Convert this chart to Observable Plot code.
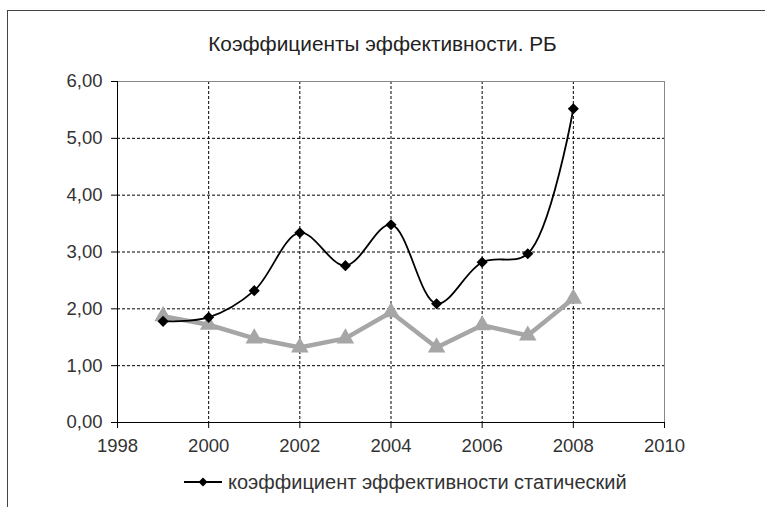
<!DOCTYPE html>
<html>
<head>
<meta charset="utf-8">
<script src="https://cdn.jsdelivr.net/npm/d3@7"></script>
<script src="https://cdn.jsdelivr.net/npm/@observablehq/plot@0.6"></script>
<style>
  html, body { margin: 0; padding: 0; background: #fff; }
  #wrap { position: relative; width: 765px; height: 507px; overflow: hidden; font-family: "Liberation Sans", Arial, sans-serif; }
  #frame { position: absolute; left: 7px; top: 10px; width: 770px; height: 510px; border-top: 1px solid #444; border-left: 1px solid #444; }
  #title { position: absolute; left: 0; top: 32px; width: 765px; text-align: center; font-size: 20.8px; color: #222; line-height: 24px; }
  #chart { position: absolute; left: 0; top: 60px; }
  #legend { position: absolute; left: 183px; top: 470px; font-size: 20px; color: #333; display: flex; align-items: center; line-height: 24px; }
  #legend svg { margin-right: 5px; }
</style>
</head>
<body>
<div id="wrap">
  <div id="frame"></div>
  <div id="title">Коэффициенты эффективности. РБ</div>
  <div id="chart"></div>
  <div id="legend"></div>
</div>
<script>
const years = [1999, 2000, 2001, 2002, 2003, 2004, 2005, 2006, 2007, 2008];
const staticCoef = [1.78, 1.85, 2.32, 3.34, 2.76, 3.48, 2.09, 2.82, 2.97, 5.52];
const dynamicCoef = [1.87, 1.72, 1.48, 1.32, 1.48, 1.94, 1.32, 1.71, 1.53, 2.18];
const xTicks = [1998, 2000, 2002, 2004, 2006, 2008, 2010];
const yTicks = [0, 1, 2, 3, 4, 5, 6];
const staticLabel = "коэффициент эффективности статический";

const staticData = years.map((x, i) => ({x, y: staticCoef[i]}));
const dynamicData = years.map((x, i) => ({x, y: dynamicCoef[i]}));

const chart = Plot.plot({
  width: 765,
  height: 400,
  marginLeft: 117,
  marginRight: 101,
  marginTop: 21,
  marginBottom: 38,
  style: { fontFamily: "'Liberation Sans', Arial, sans-serif", fontSize: "18.5px", color: "#333", background: "transparent", overflow: "visible" },
  x: { domain: [1998, 2010], label: null },
  y: { domain: [0, 6], label: null },
  marks: [
    Plot.ruleX(xTicks.slice(1, -1), { stroke: "#000", strokeWidth: 1, strokeDasharray: "3,2" }),
    Plot.ruleY(yTicks.slice(1, -1), { stroke: "#000", strokeWidth: 1, strokeDasharray: "3,2" }),
    Plot.ruleX([2010], { stroke: "#888" }),
    Plot.ruleY([6], { stroke: "#888" }),
    Plot.axisX({ ticks: xTicks, tickFormat: d => String(d), tickSize: 6, tickPadding: 10, fontSize: 18.5, stroke: "#000" }),
    Plot.axisY({ ticks: yTicks, tickFormat: d => d.toFixed(2).replace(".", ","), tickSize: 6, tickPadding: 9, fontSize: 18.5, stroke: "#000" }),
    Plot.ruleY([0], { stroke: "#000" }),
    Plot.ruleX([1998], { stroke: "#000" }),
    Plot.line(dynamicData, { x: "x", y: "y", stroke: "#a6a6a6", strokeWidth: 4.5, strokeLinejoin: "round" }),
    Plot.dot(dynamicData, { x: "x", y: "y", symbol: "triangle", fill: "#a6a6a6", r: 6.5 }),
    Plot.line(staticData, { x: "x", y: "y", curve: "catmull-rom", stroke: "#000", strokeWidth: 1.8 }),
    Plot.dot(staticData, { x: "x", y: "y", symbol: "diamond2", fill: "#000", r: 5 })
  ]
});
document.getElementById("chart").appendChild(chart);

const legend = document.getElementById("legend");
const ns = "http://www.w3.org/2000/svg";
const sw = document.createElementNS(ns, "svg");
sw.setAttribute("width", 40); sw.setAttribute("height", 16);
sw.innerHTML = '<line x1="1" y1="8" x2="39" y2="8" stroke="#000" stroke-width="1.8"/><path d="M20,3.5 L24.5,8 L20,12.5 L15.5,8 Z" fill="#000"/>';
legend.appendChild(sw);
const t = document.createElement("span");
t.textContent = staticLabel;
legend.appendChild(t);
</script>
</body>
</html>
